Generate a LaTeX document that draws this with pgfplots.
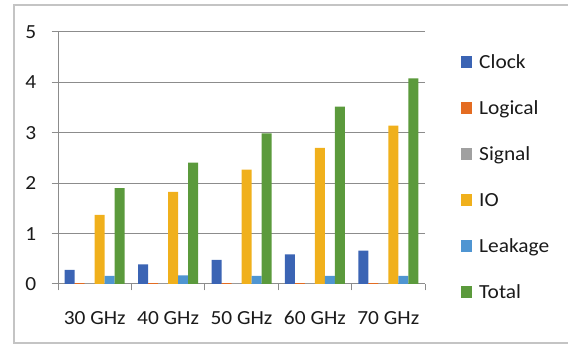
\documentclass[border=0pt]{standalone}
\usepackage{fontspec}
\setmainfont{Carlito}[FakeStretch=1.07]
\usepackage{pgfplots}
\pgfplotsset{compat=1.18}

\definecolor{clockc}{HTML}{3B64B4}
\definecolor{logicc}{HTML}{E46C22}
\definecolor{signalc}{HTML}{A0A0A0}
\definecolor{ioc}{HTML}{F0B01C}
\definecolor{leakc}{HTML}{4F95D2}
\definecolor{totalc}{HTML}{5B9A3C}
\definecolor{gridgray}{HTML}{8C8C8C}
\definecolor{framegray}{HTML}{C4C4C4}
\definecolor{textc}{HTML}{1A1A1A}

\begin{document}
\begin{tikzpicture}[font=\fontsize{20}{24}\selectfont]
\path[use as bounding box] (0pt,0pt) rectangle (568pt,345pt);
% chart frame, running off the right edge
\draw[framegray, line width=1.5pt] (14pt,2pt) rectangle (600pt,340pt);
\begin{axis}[
  at={(58pt,61pt)}, anchor=south west,
  scale only axis, width=367pt, height=252pt,
  xmin=-0.5, xmax=4.5, ymin=0, ymax=5,
  ybar=0pt, bar width=10pt,
  xtick={-0.5,0.5,...,4.5},
  x tick label as interval,
  xticklabels={30 GHz,40 GHz,50 GHz,60 GHz,70 GHz},
  ytick={0,1,...,5},
  ymajorgrids,
  major grid style={gridgray, line width=1pt},
  axis x line*=bottom, axis y line*=left,
  axis line style={gridgray, line width=1pt, -},
  tick align=outside, major tick length=6.5pt,
  tick style={gridgray, line width=1pt},
  tick label style={text=textc},
  /pgf/number format/assume math mode=true,
  yticklabel style={anchor=east, inner sep=0pt, xshift=-15pt},
  xticklabel style={anchor=north, inner sep=0pt, text height=13pt, yshift=-21pt},
  legend style={at={(1,1)}, anchor=north west, xshift=36pt, yshift=-22pt,
    draw=none, fill=none, inner sep=0pt, row sep=27pt, column sep=7pt,
    text=textc,
    nodes={inner sep=0pt, anchor=base west, text height=14pt, text depth=5pt}},
  legend cell align=left,
  legend image code/.code={\fill[#1] (0pt,0pt) rectangle (11pt,12pt);},
]
\addplot[fill=clockc, draw=none] coordinates {(0,0.28) (1,0.39) (2,0.48) (3,0.59) (4,0.66)};
\addlegendentry{Clock}
\addplot[fill=logicc, draw=none] coordinates {(0,0.015) (1,0.015) (2,0.015) (3,0.015) (4,0.015)};
\addlegendentry{Logical}
\addplot[fill=signalc, draw=none] coordinates {(0,0.01) (1,0.01) (2,0.01) (3,0.01) (4,0.01)};
\addlegendentry{Signal}
\addplot[fill=ioc, draw=none] coordinates {(0,1.37) (1,1.83) (2,2.27) (3,2.70) (4,3.14)};
\addlegendentry{IO}
\addplot[fill=leakc, draw=none] coordinates {(0,0.16) (1,0.17) (2,0.16) (3,0.16) (4,0.16)};
\addlegendentry{Leakage}
\addplot[fill=totalc, draw=none] coordinates {(0,1.90) (1,2.41) (2,2.99) (3,3.52) (4,4.08)};
\addlegendentry{Total}
\end{axis}
\end{tikzpicture}
\end{document}
